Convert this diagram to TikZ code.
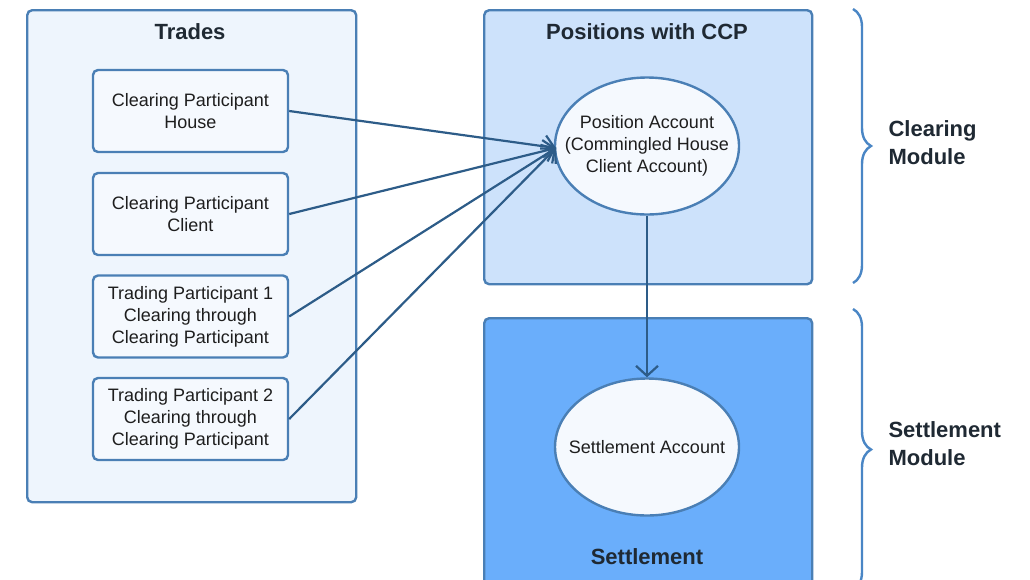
\documentclass[tikz,border=0pt]{standalone}
\usepackage{fontspec}
\setmainfont{Liberation Sans}
\usetikzlibrary{arrows.meta,shapes.geometric,decorations.pathreplacing}

\definecolor{edgeblue}{HTML}{4A7FB5}
\definecolor{tradesfill}{HTML}{EEF5FD}
\definecolor{boxfill}{HTML}{F5F9FE}
\definecolor{ccpfill}{HTML}{CDE2FB}
\definecolor{settlefill}{HTML}{6AAEFB}
\definecolor{arrowblue}{HTML}{2D5C88}
\definecolor{bracecol}{HTML}{4A86C5}
\definecolor{titlecol}{HTML}{1F2933}
\definecolor{textcol}{HTML}{1E1E1E}

\tikzset{
  panel/.style={draw=edgeblue, line width=2.4pt, rounded corners=5pt, anchor=north west},
  tradebox/.style={draw=edgeblue, line width=2.4pt, rounded corners=5pt, fill=boxfill,
    minimum width=195pt, minimum height=82pt, align=center, text=textcol,
    font=\fontsize{18}{22}\selectfont, inner sep=0pt},
  account/.style={ellipse, draw=edgeblue, line width=2.4pt, fill=boxfill,
    minimum width=184pt, minimum height=137pt, align=center, text=textcol,
    font=\fontsize{18}{22}\selectfont, inner xsep=-30pt, inner ysep=-20pt},
  paneltitle/.style={font=\fontsize{22}{26}\selectfont\bfseries, text=titlecol},
  modlabel/.style={font=\fontsize{22}{28}\selectfont\bfseries, text=titlecol,
    align=left, anchor=west},
  flow/.style={draw=arrowblue, line width=2.2pt,
    -{Straight Barb[length=10pt,width=22pt,line width=2.2pt]}},
  modbrace/.style={draw=bracecol, line width=2.4pt,
    decorate, decoration={brace, amplitude=18pt}}
}

\begin{document}
\begin{tikzpicture}[x=1pt,y=-1pt]
\useasboundingbox (0,0) rectangle (1030,579);
\clip (0,0) rectangle (1030,579);
\fill[white] (0,0) rectangle (1030,579);

% panels
\node[panel, fill=tradesfill, minimum width=329pt, minimum height=492pt] (trades) at (26,9) {};
\node[panel, fill=ccpfill, minimum width=328pt, minimum height=274pt] (ccp) at (483,9) {};
\node[panel, fill=settlefill, minimum width=328pt, minimum height=290pt] (settle) at (483,317) {};

\node[paneltitle] (tradesT) at (190,32) {Trades};
\node[paneltitle] (ccpT) at (647,32) {Positions with CCP};
\node[paneltitle] (settleT) at (647,557) {Settlement};

% trade sources
\node[tradebox] (cph) at (190.5,111) {Clearing Participant\\House};
\node[tradebox] (cpc) at (190.5,214) {Clearing Participant\\Client};
\node[tradebox] (tp1) at (190.5,316.5) {Trading Participant 1\\Clearing through\\Clearing Participant};
\node[tradebox] (tp2) at (190.5,419) {Trading Participant 2\\Clearing through\\Clearing Participant};

% accounts
\node[account] (pa) at (647,146) {Position Account\\(Commingled House\\Client Account)};
\node[account] (sa) at (647,447) {Settlement Account};

\coordinate (pin) at (556,148);

% flows
\draw[flow] (cph.east) -- (pin);
\draw[flow] (cpc.east) -- (pin);
\draw[flow] (tp1.east) -- (pin);
\draw[flow] (tp2.east) -- (pin);
\draw[flow] (pa.south) -- (sa.north);

% module braces
\draw[modbrace] (853,9) -- (853,283);
\draw[modbrace] (853,309) -- (853,590);

\node[modlabel] (clearL) at (885,143) {Clearing\\Module};
\node[modlabel] (settleL) at (885,444) {Settlement\\Module};
\end{tikzpicture}
\end{document}
